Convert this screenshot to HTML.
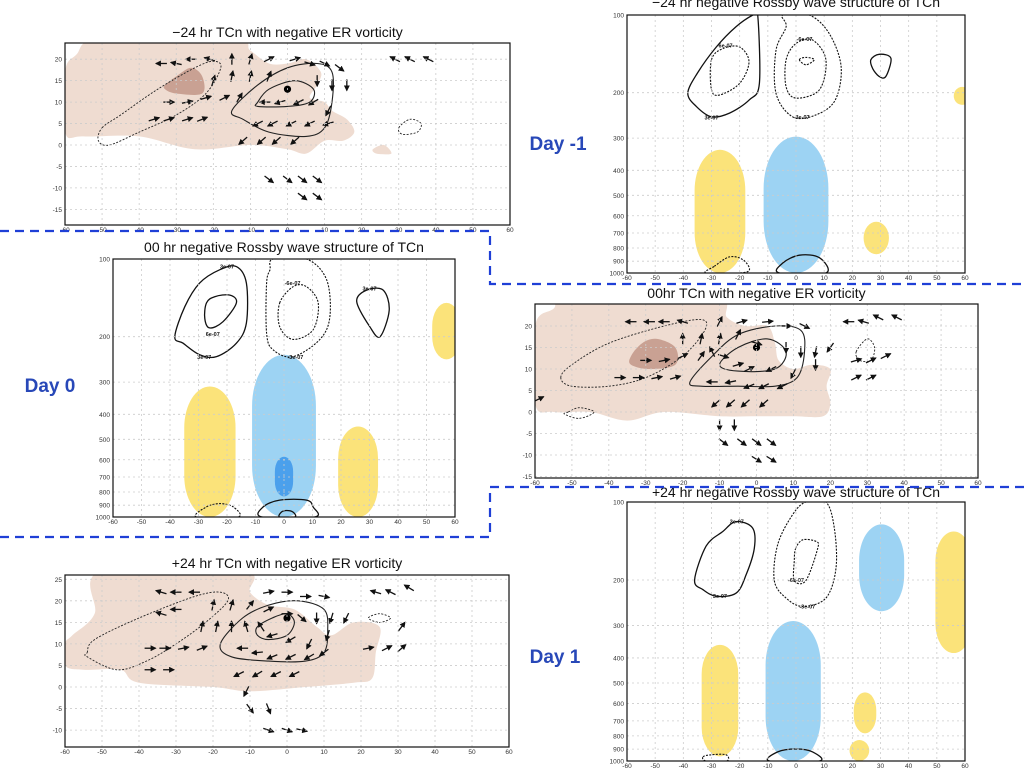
<!DOCTYPE html>
<html><head><meta charset="utf-8"><style>
html,body{margin:0;padding:0;background:#fff;}
svg{display:block;}
text{font-family:"Liberation Sans",sans-serif;}
</style></head><body>
<svg id="s" width="1024" height="768" viewBox="0 0 1024 768" xmlns="http://www.w3.org/2000/svg">
<defs><marker id="ah" markerWidth="6" markerHeight="6" refX="5" refY="3" orient="auto" markerUnits="userSpaceOnUse"><path d="M0,0 L6,3 L0,6 z" fill="#111"/></marker></defs>
</svg>
<script>
// ---------- data ----------
const lonTicks=[-60,-50,-40,-30,-20,-10,0,10,20,30,40,50,60];
const latTicksA=[20,15,10,5,0,-5,-10,-15];
const latTicksB=[25,20,15,10,5,0,-5,-10];
const presTicks=[100,200,300,400,500,600,700,800,900,1000];
// shading polygons [lon,lat]
const tanM24=[[-60,17],[-57,21],[-50,25],[-15,25],[-10,22],[-5,19],[0,19],[5,20],[9,17],[8,14],[6,11],[10,10],[12,8],[16,6],[18,3],[15,1],[10,1],[5,-2],[0,-1],[-10,0],[-25,-1],[-40,2],[-55,2],[-60,3]];
const tanM24b=[[23,-1],[26,0],[28,-2],[24,-2]];
const darkM24=[[-33,14],[-30,16],[-26,18],[-23,16],[-23,12],[-30,12],[-33,13]];
const tan00=[[-60,2],[-60,20],[-55,24],[-50,27],[-12,27],[-8,22],[-3,20],[3,20],[5,16],[6,12],[10,10],[15,11],[20,10],[19,6],[20,2],[18,-1],[10,-1],[0,-1],[-10,-1],[-25,0],[-35,-2],[-45,0],[-55,0]];
const dark00=[[-34,13],[-31,16],[-27,17],[-22,15],[-22,11],[-29,10],[-34,11]];
const tanP24=[[-60,10],[-58,12],[-52,17],[-50,27],[-12,27],[-10,22],[-5,19],[2,18],[8,14],[12,12],[18,15],[25,14],[24,8],[23,2],[18,1],[5,0],[-10,-1],[-20,0],[-40,1],[-45,4],[-55,4],[-60,5]];
// contours: [style(1 solid,0 dotted), points [lon,lat]]
const contM24=[[0,[[-50,4],[-45,7],[-35,13],[-25,18],[-20,19.5],[-18,18],[-22,12],[-30,7],[-40,3],[-48,0],[-51,1]]],
[1,[[-15,8],[-8,14],[0,18],[8,19],[12,17],[12,10],[10,4],[5,2],[-5,3],[-12,6]]],
[1,[[-8,10],[-5,13],[2,15],[7,13],[6,10],[0,9],[-8,9]]],
[0,[[30,4],[33,6],[36,5],[35,3],[31,2.5]]]];
const cont00=[[0,[[-53,8],[-50,11],[-40,16],[-25,20],[-15,21.5],[-14,19],[-20,13],[-30,8],[-40,6],[-50,6]]],
[1,[[-18,7],[-12,13],[-5,18],[5,20],[12,19],[13,14],[11,8],[5,6],[-5,6],[-15,6]]],
[1,[[-10,11],[-5,15],[3,17],[8,14],[5,10],[-5,9.5]]],
[0,[[-51,0],[-48,1],[-44,0],[-48,-1.5],[-52,-0.5]]],
[0,[[27,14],[30,17],[32,15],[31,12],[28,12]]]];
const contP24=[[0,[[-54,8],[-52,11],[-40,16],[-25,21],[-18,22],[-16,20],[-22,15],[-30,10],[-38,6],[-46,4],[-54,7]]],
[1,[[-18,10],[-12,16],[-5,19],[3,20],[10,18],[11,13],[10,8],[5,6],[-5,6],[-15,7]]],
[1,[[-8,14],[-4,16],[0,17],[2,15],[0,12],[-5,11],[-8,12]]],
[0,[[22,16],[25,17],[28,16],[25,15]]]];
// vectors [lon,lat,u,v]
const vecM24=[[-34,19,-1,0],[-30,19,-1,0.2],[-26,20,-1,0],[-21,20,-1,0.3],[-15,20,0,1],[-10,20,0.3,1],[-5,20,1,0.5],[2,20,1,0.3],[6,19,1,-0.3],[10,19,1,-0.5],[14,18,0.8,-0.6],
[-20,15,0.3,1],[-15,16,0.2,1],[-10,16,0.2,1],[-5,16,0.4,1],[8,15,0,-1],[12,14,0,-1],[16,14,0,-1],
[-32,10,1,0],[-27,10,1,0.2],[-22,11,1,0.3],[-17,11,1,0.5],[-13,11,0.6,1],[-6,10,-1,0],[-2,10,-1,-0.3],[3,10,-1,-0.5],[7,10,-1,-0.6],[11,8,-0.5,-1],
[-36,6,1,0.3],[-32,6,1,0.3],[-27,6,1,0.3],[-23,6,1,0.4],[-8,5,-1,-0.5],[-4,5,-1,-0.5],[1,5,-1,-0.5],[6,5,-1,-0.5],[11,5,-1,-0.3],
[-12,1,-0.8,-0.7],[-7,1,-0.8,-0.7],[-3,1,-0.8,-0.7],[2,1,-0.8,-0.7],
[-5,-8,0.8,-0.6],[0,-8,0.8,-0.6],[4,-8,0.8,-0.6],[8,-8,0.8,-0.6],[4,-12,0.8,-0.6],[8,-12,0.8,-0.6],
[29,20,-1,0.5],[33,20,-1,0.5],[38,20,-1,0.5]];
const vec00=[[-34,21,-1,0],[-29,21,-1,0],[-25,21,-1,0],[-20,21,-1,0.3],[-10,21,0.5,1],[-4,21,1,0.3],[3,21,1,0.1],[8,20,1,0],[13,20,1,-0.5],
[-20,17,0,1],[-15,17,0.2,1],[-10,17,0.2,1],[-5,18,0.5,1],[0,16,1,-0.3],[8,15,0,-1],[12,14,0,-1],[16,14,-0.2,-1],[20,15,-0.5,-0.7],
[-30,12,1,0],[-25,12,1,0.2],[-20,13,1,0.5],[-15,13,0.7,1],[-12,14,-0.5,1],[-9,13,1,-0.3],[-5,11,1,0.3],[-2,10,1,0.5],[4,10,-1,-0.5],[10,9,-0.5,-1],[16,11,0,-1],
[-37,8,1,0],[-32,8,1,0],[-27,8,1,0.2],[-22,8,1,0.3],[-12,7,-1,0],[-7,7,-1,-0.2],[-2,6,-1,-0.4],[2,6,-1,-0.5],[7,6,-1,-0.5],
[-11,2,-0.8,-0.7],[-7,2,-0.8,-0.7],[-3,2,-0.8,-0.7],[2,2,-0.8,-0.7],
[-10,-3,0,-1],[-6,-3,0,-1],[-9,-7,0.8,-0.6],[-4,-7,0.8,-0.6],[0,-7,0.8,-0.6],[4,-7,0.8,-0.6],[0,-11,0.8,-0.5],[4,-11,0.8,-0.5],
[25,21,-1,0],[29,21,-1,0.3],[33,22,-1,0.5],[38,22,-1,0.5],[27,12,1,0.3],[31,12,1,0.5],[35,13,1,0.5],[27,8,1,0.5],[31,8,1,0.5],[-59,3,0.8,0.4]];
const vecP24=[[-34,22,-1,0.3],[-30,22,-1,0],[-25,22,-1,0],[-5,22,1,0.2],[0,22,1,0],[5,21,1,0],[10,21,1,-0.2],
[-34,17,-1,0.3],[-30,18,-1,0],[-20,19,0.2,1],[-15,19,0.3,1],[-10,19,0.8,1],[-5,18,1,0.5],[0,17,1,0],[4,16,0.7,-0.6],[8,16,0,-1],[12,16,-0.3,-1],[16,16,-0.4,-0.8],
[-23,14,0.2,1],[-19,14,0.2,1],[-15,14,0,1],[-11,14,-0.3,1],[-7,14,-0.4,0.6],[-4,12,-1,-0.3],[1,11,-1,-0.6],[6,10,-0.5,-1],[11,12,-0.3,-1],
[-37,9,1,0],[-33,9,1,0],[-28,9,1,0.2],[-23,9,1,0.4],[-12,9,-1,0],[-8,8,-1,-0.1],[-4,7,-1,-0.4],[1,7,-1,-0.5],[6,7,-1,-0.6],[10,8,-0.8,-0.6],
[-37,4,1,0],[-32,4,1,0],[-13,3,-1,-0.5],[-8,3,-1,-0.6],[-3,3,-1,-0.5],[2,3,-1,-0.5],[-11,-1,-0.5,-1],
[-10,-5,0.6,-0.8],[-5,-5,0.4,-1],[-5,-10,0.9,-0.3],[0,-10,0.9,-0.3],[4,-10,0.9,-0.2],
[24,22,-1,0.3],[28,22,-1,0.5],[33,23,-1,0.6],[22,9,1,0.2],[27,9,1,0.5],[31,9,0.8,0.7],[31,14,0.6,0.8]];
// pressure blobs [lon, pTop, pBottom, halfWidth, color]
const blobM24=[[-27,333,1000,9,"y"],[0,296,1000,11.5,"b"],[28.5,633,846,4.5,"y"],[59,190,223,3,"y"]];
const blob00=[[-26,312,1000,9,"y"],[0,235,1000,11.2,"b"],[0,584,832,3.2,"d"],[26,446,1000,7,"y"],[57,148,245,5,"y"]];
const blobP24=[[-27,356,960,6.5,"y"],[-1,288,1000,9.8,"b"],[24.5,543,782,4,"y"],[22.5,830,1000,3.5,"y"],[30.4,122,264,8,"b"],[56,130,383,6.5,"y"]];
// pressure contours [style, points [lon,p]]
const pcM24=[[1,[[-13.6,100],[-13,184],[-16.5,213],[-23.6,240],[-30,248],[-35.4,226],[-38.4,201],[-35,168],[-28.3,133],[-21.3,111],[-15.3,100]]],
[0,[[-30,149],[-26,135],[-20,133],[-16.7,152],[-20,184],[-27,204],[-30,195]]],
[0,[[-4.7,100],[4.7,100],[11.8,118],[16,158],[14,213],[7.1,244],[-1.2,248],[-7.1,201],[-7.1,137],[-3.5,111]]],
[0,[[-3.5,149],[0,129],[5.9,125],[10.6,149],[8.3,195],[0,210],[-3.5,190]]],
[0,[[1.2,149],[3.5,146],[6.5,149],[3.5,156]]],
[1,[[26.6,149],[29.5,142],[33.7,147],[31.9,173],[29.5,173],[27.2,161]]],
[0,[[-29,942],[-23.6,866],[-18.9,887],[-16.5,969],[-20,1000],[-31.9,1000]]],
[1,[[-5.9,1000],[-4.7,915],[1.2,853],[8.3,872],[10.6,1000]]]];
const pc00=[[1,[[-16.7,107],[-13.2,124],[-13.2,177],[-16.7,212],[-23.7,239],[-29.6,235],[-35.4,212],[-38.3,200],[-34.8,153],[-29.6,124],[-22.5,110]]],
[1,[[-27.2,148],[-24.3,140],[-19,138],[-16.7,148],[-21.4,175],[-26.1,185],[-27.8,170]]],
[0,[[-3.8,100],[7.9,100],[14.9,120],[16.1,167],[12.6,205],[3.2,239],[-3.8,225],[-6.1,194],[-6.1,124],[-4.9,110]]],
[0,[[-1.5,148],[3.2,128],[7.9,128],[12,148],[10.2,188],[3.2,205],[-1.5,183]]],
[1,[[25.5,146],[29,132],[34.8,132],[36.9,158],[33.7,200],[30.1,183]]],
[0,[[-30.7,1000],[-27.2,914],[-22.5,887],[-17.8,914],[-16.1,1000]]],
[1,[[-7.7,1000],[-7.3,914],[-1.5,860],[7.9,860],[10.2,914],[10.8,1000]]],
[1,[[-1.5,1000],[-0.9,957],[0.9,944],[3.2,957],[3.8,1000]]]];
const pcP24=[[1,[[-21.3,119],[-15.4,126],[-14.8,151],[-17.7,191],[-21.3,225],[-28.3,231],[-33,218],[-36,200],[-31.9,148],[-26,130]]],
[0,[[3.5,100],[10.6,100],[13.6,126],[14.2,180],[10.6,235],[2.4,253],[-3.5,235],[-7.7,201],[-6.5,146],[-1.2,112]]],
[0,[[-0.1,151],[2.4,140],[7.1,142],[7.7,151],[3.5,201],[-0.6,201],[-0.6,168]]],
[0,[[-33,963],[-30.1,946],[-24.8,946],[-24.6,1000],[-31.9,1000]]],
[1,[[-9.4,1000],[-6.5,922],[0,899],[5.9,922],[8.3,1000]]]];
// contour labels [lon,p,text]
const lblM24=[[-25,131,"6e-07"],[3,124,"-6e-07"],[2,248,"-3e-07"],[-30,250,"3e-07"]];
const lbl00=[[-20,107,"3e-07"],[-25,195,"6e-07"],[-28,240,"3e-07"],[3,124,"-6e-07"],[4,240,"-3e-07"],[30,130,"3e-07"]];
const lblP24=[[-21,119,"3e-07"],[-27,231,"3e-07"],[0,200,"-6e-07"],[4,253,"-3e-07"]];

const COL={y:"#fbe37a",b:"#9dd3f3",d:"#4ba0ec"};
const svg=document.getElementById('s');
const NS="http://www.w3.org/2000/svg";
function mk(tag,attrs,parent){const e=document.createElementNS(NS,tag);for(const k in attrs)e.setAttribute(k,attrs[k]);(parent||svg).appendChild(e);return e;}
function smooth(P){const n=P.length;let d='M'+P[0][0].toFixed(1)+','+P[0][1].toFixed(1);
  for(let i=0;i<n;i++){const p0=P[(i-1+n)%n],p1=P[i],p2=P[(i+1)%n],p3=P[(i+2)%n];
    const c1=[p1[0]+(p2[0]-p0[0])/6,p1[1]+(p2[1]-p0[1])/6],c2=[p2[0]-(p3[0]-p1[0])/6,p2[1]-(p3[1]-p1[1])/6];
    d+=' C'+c1.map(v=>v.toFixed(1)).join(',')+' '+c2.map(v=>v.toFixed(1)).join(',')+' '+p2[0].toFixed(1)+','+p2[1].toFixed(1);}
  return d+'Z';}

function frame(g,P,title,name){
  const t=mk('text',{x:(P.x0+P.x1)/2,y:P.ty,'text-anchor':'middle','font-size':14,fill:'#111'},g);
  t.textContent=title;
  
  
}
function xAxis(g,P,fx){
  lonTicks.forEach(v=>{const x=fx(v);
    mk('line',{x1:x,x2:x,y1:P.y0,y2:P.y1,stroke:'#ccc','stroke-dasharray':'2,3','stroke-width':0.8},g);
    const t=mk('text',{x:x,y:P.y1+7,'text-anchor':'middle','font-size':6.5,fill:'#333'},g);t.textContent=v;
    
    
  });
}
function yAxis(g,P,ticks,fy){
  ticks.forEach(v=>{const y=fy(v);if(y<P.y0-1||y>P.y1+1)return;
    mk('line',{x1:P.x0,x2:P.x1,y1:y,y2:y,stroke:'#ccc','stroke-dasharray':'2,3','stroke-width':0.8},g);
    const t=mk('text',{x:P.x0-3,y:y+2.5,'text-anchor':'end','font-size':6.5,fill:'#333'},g);t.textContent=v;
    
    
  });
}
function box(g,P){mk('rect',{x:P.x0,y:P.y0,width:P.x1-P.x0,height:P.y1-P.y0,fill:'none',stroke:'#111','stroke-width':1.2},g);}

function mapPanel(P,title,name,latTicks,tans,dark,conts,vecs,center){
  const g=mk('g',{});
  
  
  const fx=v=>P.x0+(v+60)/120*(P.x1-P.x0);
  const fy=v=>P.yz-v*P.ppd;
  frame(g,P,title,name);
  const cp=mk('clipPath',{id:'c'+name},g);mk('rect',{x:P.x0,y:P.y0,width:P.x1-P.x0,height:P.y1-P.y0},cp);
  const inner=mk('g',{'clip-path':'url(#c'+name+')'},g);
  const pt=p=>p.map(q=>[fx(q[0]),fy(q[1])]);
  tans.forEach(tan=>{const tp=mk('path',{d:smooth(pt(tan)),fill:'#efdcd1'},inner);
    
    });
  if(dark){const d=mk('path',{d:smooth(pt(dark)),fill:'#c9a193'},inner);
    
    }
  xAxis(g,P,fx);yAxis(g,P,latTicks,fy);
  conts.forEach(c=>{const e=mk('path',{d:smooth(pt(c[1])),fill:'none',stroke:'#222','stroke-width':c[0]?1.1:0.9,'stroke-dasharray':c[0]?'none':'2,1.5'},inner);
    
    });
  vecs.forEach(v=>{const x=fx(v[0]),y=fy(v[1]);const m=Math.hypot(v[2],v[3])||1;const L=11;
    const dx=v[2]/m*L/2,dy=-v[3]/m*L/2;
    const l=mk('line',{x1:x-dx,y1:y-dy,x2:x+dx,y2:y+dy,stroke:'#111','stroke-width':1.3,'marker-end':'url(#ah)'},inner);
    
    });
  const c=mk('circle',{cx:fx(center[0]),cy:fy(center[1]),r:3.6,fill:'#000'},inner);
  
  
  box(g,P);
}

function presPanel(P,title,name,blobs,pcs,lbls){
  const g=mk('g',{});
  
  
  const fx=v=>P.x0+(v+60)/120*(P.x1-P.x0);
  const fy=p=>P.yt+(Math.log10(p)-2)*(P.yb-P.yt);
  frame(g,P,title,name);
  const cp=mk('clipPath',{id:'c'+name},g);mk('rect',{x:P.x0,y:P.y0,width:P.x1-P.x0,height:P.y1-P.y0},cp);
  const inner=mk('g',{'clip-path':'url(#c'+name+')'},g);
  blobs.forEach(b=>{const xl=fx(b[0]-b[3]),xr=fx(b[0]+b[3]),yt=fy(b[1]),yb=fy(b[2]);const w=xr-xl,h=yb-yt;
    const e=mk('rect',{x:xl,y:yt,width:w,height:h,rx:w/2,ry:Math.min(w*0.8,h/2),fill:COL[b[4]]},inner);
    
    });
  xAxis(g,P,fx);yAxis(g,P,presTicks,fy);
  pcs.forEach(c=>{
    const e=mk('path',{d:smooth(c[1].map(q=>[fx(q[0]),fy(q[1])])),fill:'none',stroke:'#111','stroke-width':c[0]?1.3:1.1,'stroke-dasharray':c[0]?'none':'2,1.3'},inner);
    
    });
  lbls.forEach(l=>{const t=mk('text',{x:fx(l[0]),y:fy(l[1])+2,'text-anchor':'middle','font-size':5.5,'font-weight':'bold',fill:'#111'},inner);t.textContent=l[2];
    
    });
  box(g,P);
}

mapPanel({x0:65,x1:510,y0:43,y1:225,yz:145,ppd:4.29,ty:37},"\u221224 hr TCn with negative ER vorticity","map-minus24",latTicksA,[tanM24,tanM24b],darkM24,contM24,vecM24,[0,13]);
mapPanel({x0:535,x1:978,y0:304,y1:478,yz:412,ppd:4.3,ty:298},"00hr TCn with negative ER vorticity","map-00",latTicksA,[tan00],dark00,cont00,vec00,[0,15]);
mapPanel({x0:65,x1:509,y0:575,y1:747,yz:687,ppd:4.31,ty:568},"+24 hr TCn with negative ER vorticity","map-plus24",latTicksB,[tanP24],null,contP24,vecP24,[0,16]);
presPanel({x0:627,x1:965,y0:15,y1:273,yt:15,yb:273,ty:7},"\u221224 hr negative Rossby wave structure of TCn","section-minus24",blobM24,pcM24,lblM24);
presPanel({x0:113,x1:455,y0:259,y1:517,yt:259,yb:517,ty:252},"00 hr negative Rossby wave structure of TCn","section-00",blob00,pc00,lbl00);
presPanel({x0:627,x1:965,y0:502,y1:761,yt:502,yb:761,ty:497},"+24 hr negative Rossby wave structure of TCn","section-plus24",blobP24,pcP24,lblP24);

// separators
[["M0,231 H490 V284 H1024"],["M0,537 H490 V487 H1024"]].forEach(d=>{const p=mk('path',{d:d[0],fill:'none',stroke:'#1f3fd6','stroke-width':2.2,'stroke-dasharray':'9,6'});
  
  });
[["Day -1",558,150,"day-minus1-label"],["Day 0",50,392,"day-0-label"],["Day 1",555,663,"day-1-label"]].forEach(a=>{
  const t=mk('text',{x:a[1],y:a[2],'text-anchor':'middle','font-size':19,'font-weight':'bold',fill:'#2848b8'});t.textContent=a[0];
  
  });
</script>
</body></html>
